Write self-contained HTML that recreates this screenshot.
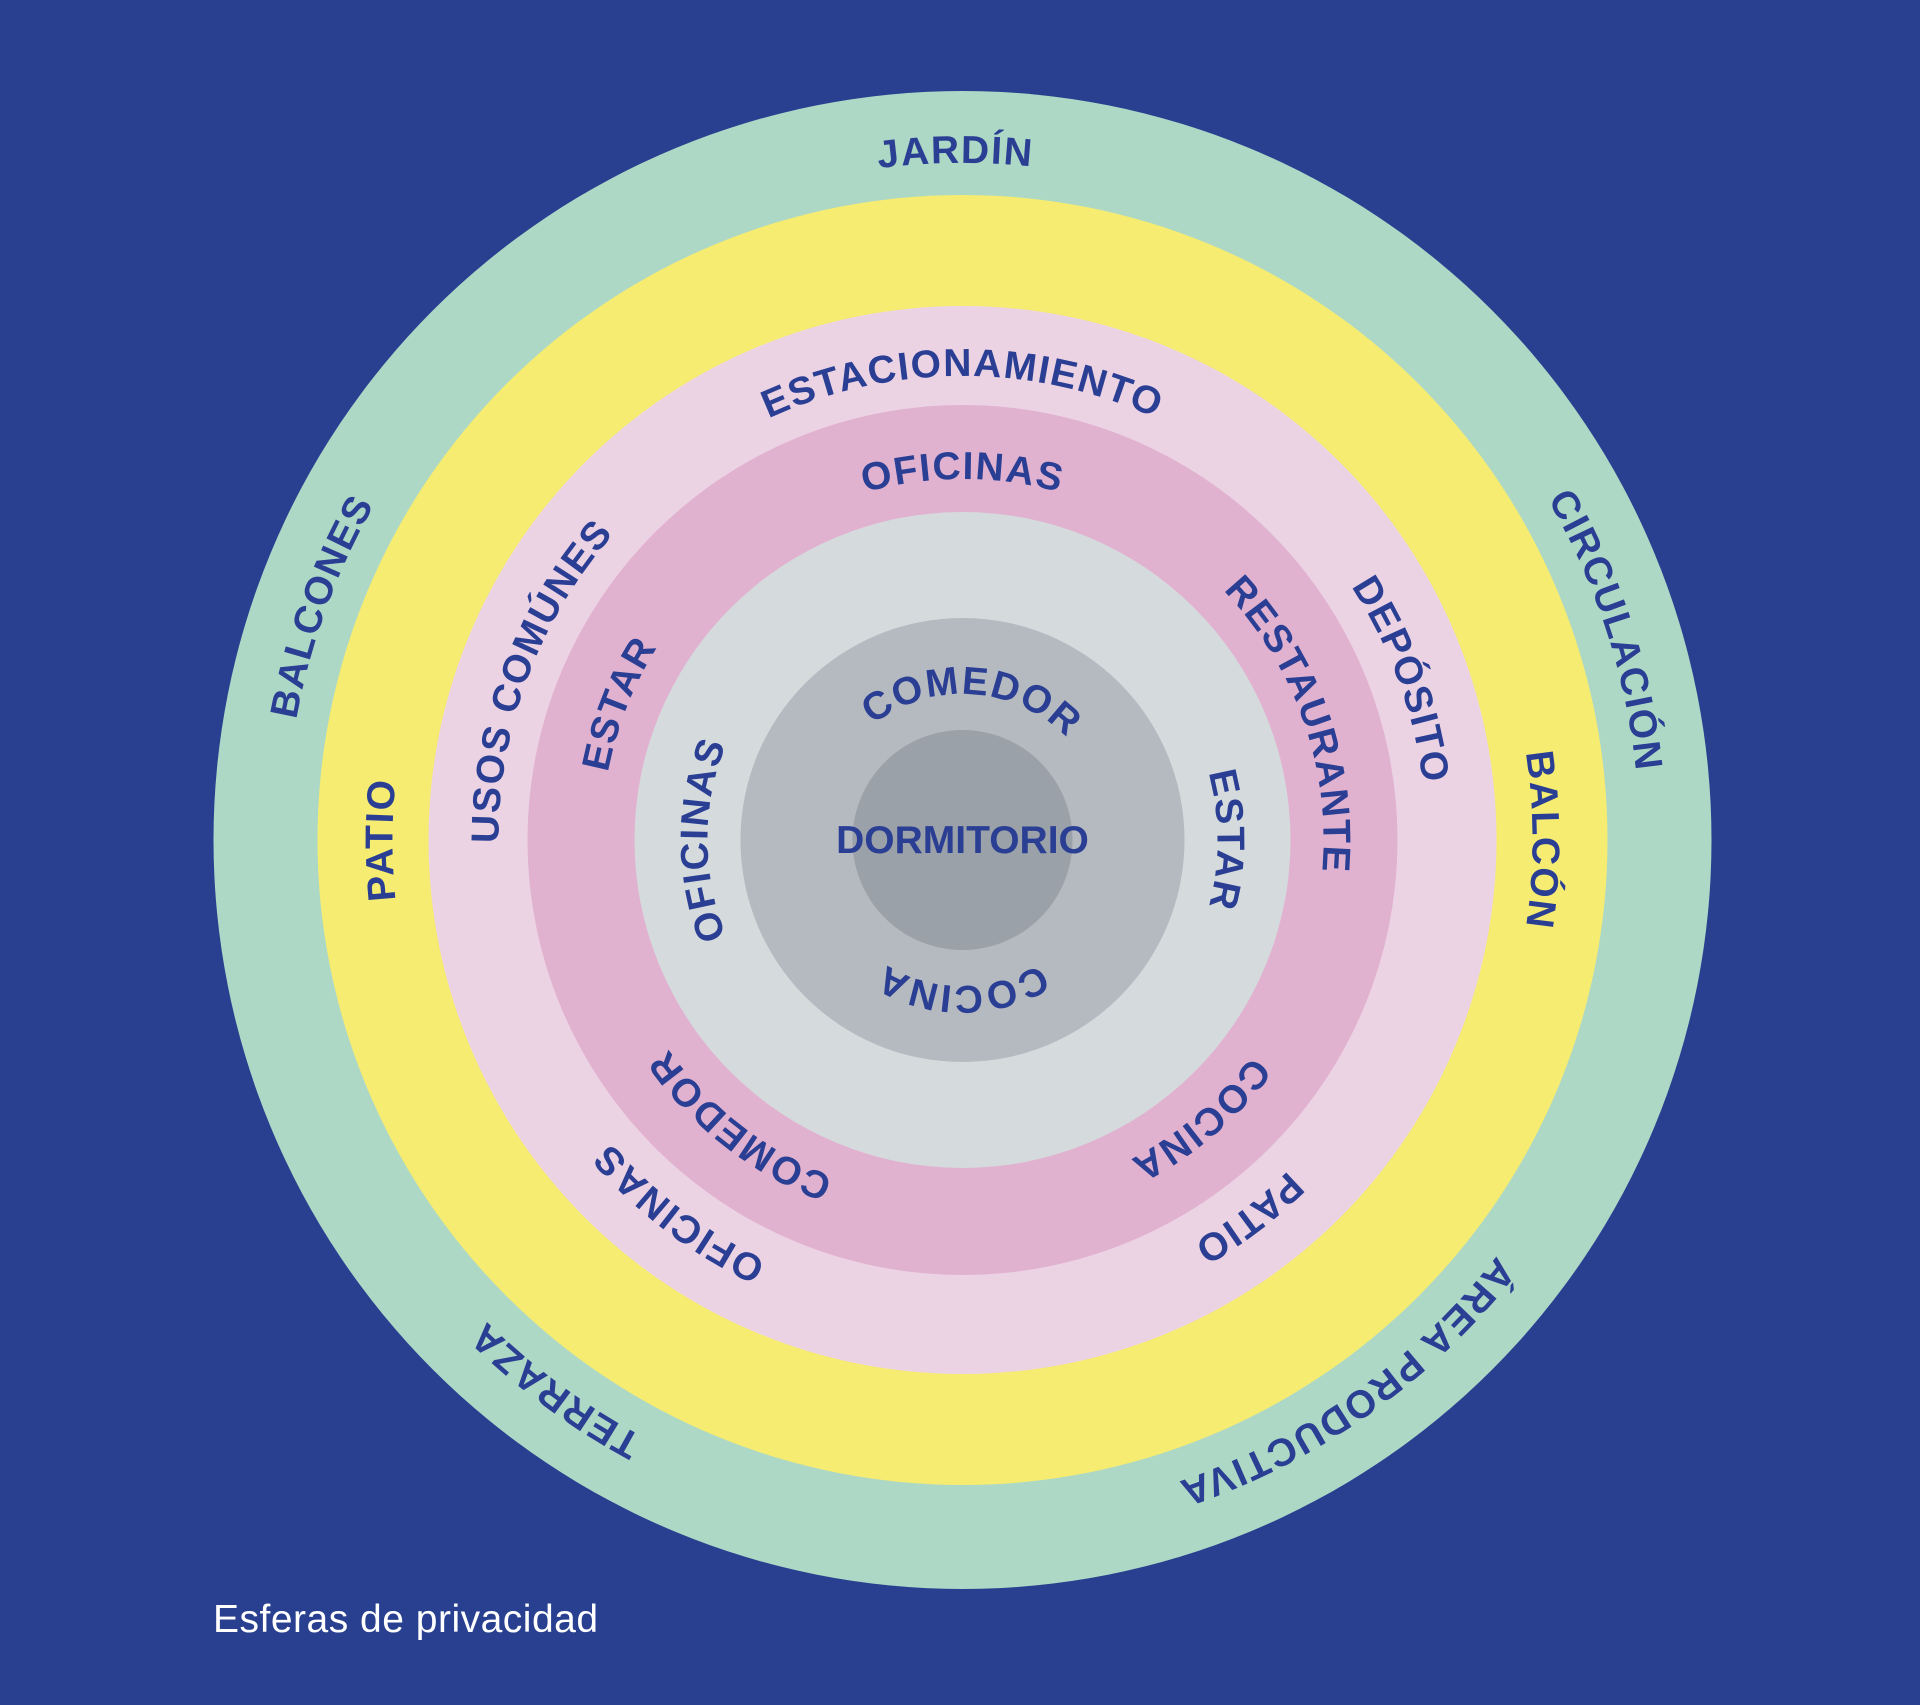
<!DOCTYPE html>
<html><head><meta charset="utf-8">
<style>
html,body{margin:0;padding:0;background:#28408f;}
svg{display:block}
</style></head>
<body>
<svg id="s" width="1920" height="1705" viewBox="0 0 1920 1705" xmlns="http://www.w3.org/2000/svg">
<rect width="1920" height="1705" fill="#28408f"/>
<circle cx="962.5" cy="840" r="749" fill="#aed8c6"/>
<circle cx="962.5" cy="840" r="645" fill="#f5ec71"/>
<circle cx="962.5" cy="840" r="534" fill="#ecd3e4"/>
<circle cx="962.5" cy="840" r="435" fill="#e1b2d0"/>
<circle cx="962.5" cy="840" r="328" fill="#d5dadd"/>
<circle cx="962.5" cy="840" r="222" fill="#b5b9c0"/>
<circle cx="962.5" cy="840" r="110" fill="#9ba1a8"/>
<g id="labels" font-family="Liberation Sans, sans-serif" font-weight="bold" font-size="39" fill="#2a3f94" letter-spacing="1.5"></g>
<text x="962.5" y="853" text-anchor="middle" font-family="Liberation Sans, sans-serif" font-weight="bold" font-size="39" fill="#2a3f94">DORMITORIO</text>
<text x="213" y="1632" font-family="Liberation Sans, sans-serif" font-size="39" letter-spacing="0.5" fill="#ffffff">Esferas de privacidad</text>
</svg>
<script>
(function(){
var cx=962.5,cy=840,NS="http://www.w3.org/2000/svg";
var g=document.getElementById("labels");
var items=[
[697,-0.6,"JARDÍN"],[697,72,"CIRCULACIÓN"],[697,-70,"BALCONES"],[697,216.5,"TERRAZA"],[697,144.7,"ÁREA PRODUCTIVA"],
[590,-90,"PATIO"],[590,90,"BALCÓN"],
[484,0,"ESTACIONAMIENTO"],[484,70,"DEPÓSITO"],[484,-69.5,"USOS COMÚNES"],[484,217.2,"OFICINAS"],[484,142.9,"PATIO"],
[381,0,"OFICINAS"],[381,70.7,"RESTAURANTE"],[381,-68.4,"ESTAR"],[381,217.9,"COMEDOR"],[381,139.6,"COCINA"],
[275,-90,"OFICINAS"],[275,90,"ESTAR"],
[166,4,"COMEDOR"],[166,180,"COCINA"]
];
function pt(r,a){a=a*Math.PI/180;return [cx+r*Math.sin(a),cy-r*Math.cos(a)];}
items.forEach(function(it,i){
var r=it[0]-20,a=it[1];
var p1=pt(r,a-89),p2=pt(r,a+89);
var path=document.createElementNS(NS,"path");
path.setAttribute("id","p"+i);
path.setAttribute("fill","none");
path.setAttribute("d","M"+p1[0]+","+p1[1]+" A"+r+","+r+" 0 0 1 "+p2[0]+","+p2[1]);
g.appendChild(path);
var t=document.createElementNS(NS,"text");
t.setAttribute("text-anchor","middle");
var tp=document.createElementNS(NS,"textPath");
tp.setAttribute("href","#p"+i);
tp.setAttribute("startOffset","50%");
tp.textContent=it[2];
t.appendChild(tp);g.appendChild(t);
});
})();
</script>
</body></html>
